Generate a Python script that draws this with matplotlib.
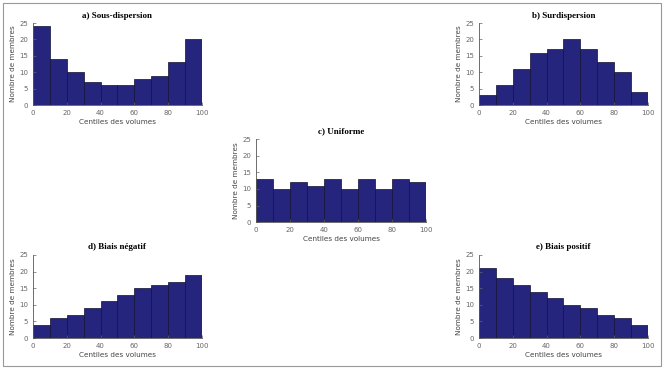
import matplotlib
matplotlib.use("Agg")
import matplotlib.pyplot as plt
from matplotlib.patches import Rectangle

bords = [0, 10, 20, 30, 40, 50, 60, 70, 80, 90]
sous_dispersion = [24, 14, 10, 7, 6, 6, 8, 9, 13, 20]
surdispersion = [3, 6, 11, 16, 17, 20, 17, 13, 10, 4]
uniforme = [13, 10, 12, 11, 13, 10, 13, 10, 13, 12]
biais_negatif = [4, 6, 7, 9, 11, 13, 15, 16, 17, 19]
biais_positif = [21, 18, 16, 14, 12, 10, 9, 7, 6, 4]

titres = ["a) Sous-dispersion", "b) Surdispersion", "c) Uniforme",
          "d) Biais négatif", "e) Biais positif"]
series = [sous_dispersion, surdispersion, uniforme, biais_negatif, biais_positif]

# positions des axes [gauche, bas, largeur, hauteur] en fraction de figure
positions = [
    [0.0496, 0.7154, 0.254, 0.222],
    [0.7203, 0.7154, 0.254, 0.222],
    [0.385, 0.398, 0.2556, 0.225],
    [0.0496, 0.084, 0.254, 0.225],
    [0.7203, 0.084, 0.254, 0.225],
]

couleur = "#25257d"
gris = "#555555"

fig = plt.figure(figsize=(6.65, 3.69), dpi=100)
fig.patches.append(Rectangle((0.004, 0.008), 0.99, 0.984, transform=fig.transFigure,
                             fill=False, edgecolor="#999999", linewidth=0.8))

for titre, valeurs, pos in zip(titres, series, positions):
    ax = fig.add_axes(pos)
    ax.bar(bords, valeurs, width=10, align="edge", color=couleur,
           edgecolor="#111133", linewidth=0.5)
    ax.set_xlim(0, 100)
    ax.set_ylim(0, 25)
    ax.set_xticks([0, 20, 40, 60, 80, 100])
    ax.set_yticks([0, 5, 10, 15, 20, 25])
    ax.spines["top"].set_visible(False)
    ax.spines["right"].set_visible(False)
    for s in ["left", "bottom"]:
        ax.spines[s].set_color(gris)
        ax.spines[s].set_linewidth(0.6)
    ax.tick_params(direction="in", length=2, width=0.5, colors="#666666", labelsize=5)
    ax.set_xlabel("Centiles des volumes", fontsize=5.2, color="#444444", labelpad=2.5)
    ax.set_ylabel("Nombre de membres", fontsize=5.2, color="#444444", labelpad=2)
    ax.set_title(titre, fontsize=6.5, fontweight="bold", family="Liberation Serif", pad=4)

fig.savefig("out.png", dpi=100)
